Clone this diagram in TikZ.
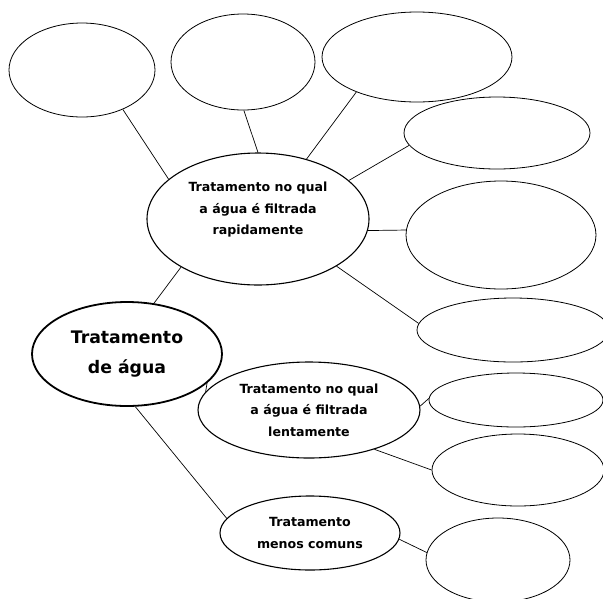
\documentclass[tikz,border=0pt]{standalone}
\usepackage{fontspec}
\setmainfont{DejaVu Sans}
\usepackage{tikz}
\usetikzlibrary{positioning,%
  shapes.geometric%
}

\begin{document}
\begin{tikzpicture}[x=1pt,y=-1pt,
    blank/.style={draw,ellipse,line width=.8pt,inner sep=0pt},
    topic/.style={draw,ellipse,line width=1.1pt,inner sep=0pt,align=center,
      font=\bfseries\fontsize{12.6}{21.5}\selectfont},
    link/.style={line width=.7pt}]
  \useasboundingbox (0,0) rectangle (603,598);

  \node[topic,line width=1.8pt,minimum width=190pt,minimum height=104pt,
    font=\bfseries\fontsize{17.3}{30}\selectfont] (agua) at (127,354) {Tratamento\\de água};
  \node[topic,minimum width=222pt,minimum height=132pt] (rapida) at (258,219)
    {Tratamento no qual\\a água é filtrada\\rapidamente\\\mbox{}};
  \node[topic,minimum width=222pt,minimum height=96pt] (lenta) at (309,410)
    {Tratamento no qual\\a água é filtrada\\lentamente};
  \node[topic,minimum width=180pt,minimum height=74pt] (outros) at (310,533)
    {Tratamento\\menos comuns};

  \node[blank,minimum width=146pt,minimum height=94pt] (b1) at (82,70) {};
  \node[blank,minimum width=144pt,minimum height=96pt] (b2) at (243,62) {};
  \node[blank,minimum width=190pt,minimum height=90pt] (b3) at (417,57) {};
  \node[blank,minimum width=186pt,minimum height=72pt] (b4) at (497,133) {};
  \node[blank,minimum width=190pt,minimum height=108pt] (b5) at (501,235) {};
  \node[blank,minimum width=192pt,minimum height=64pt] (b6) at (513,330) {};
  \node[blank,minimum width=174pt,minimum height=54pt] (b7) at (516,400) {};
  \node[blank,minimum width=172pt,minimum height=72pt] (b8) at (518,470) {};
  \node[blank,minimum width=144pt,minimum height=84pt] (b9) at (498,560) {};

  \draw[link] (b1.-44) -- (rapida.156);
  \draw[link] (b2.-89) -- (rapida.90);
  \draw[link] (b3.210) -- (rapida.51);
  \draw[link] (b4.188) -- (rapida.23);
  \draw[link] (b5.177) -- (rapida.-6);
  \draw[link] (b6.176) -- (rapida.-31);
  \draw[link] (rapida.212) -- (agua.62);
  \draw[link] (agua.-20) -- (lenta.170);
  \draw[link] (agua.-81) -- (outros.170);
  \draw[link] (lenta.2) -- (b7.179);
  \draw[link] (lenta.-31) -- (b8.180);
  \draw[link] (outros.-4) -- (b9.174);
\end{tikzpicture}
\end{document}
